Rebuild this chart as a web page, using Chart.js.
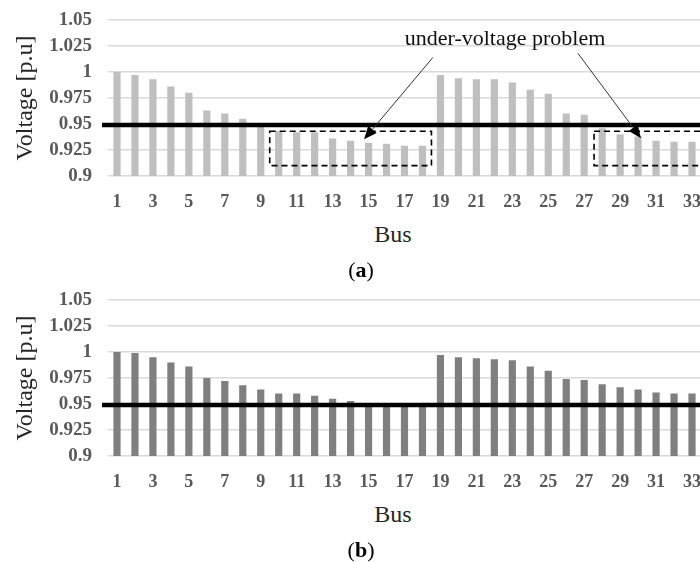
<!DOCTYPE html>
<html>
<head>
<meta charset="utf-8">
<script src="https://cdn.jsdelivr.net/npm/chart.js@4.4.1/dist/chart.umd.min.js"></script>
<style>
  body { margin: 0; width: 700px; height: 563px; overflow: hidden; background: #fff; }
  .wrap { position: relative; width: 700px; height: 563px; }
  canvas { position: absolute; left: 0; }
  .lbl { position: absolute; transform: translate(-50%, -50%); line-height: 1; white-space: nowrap;
         font-family: "Liberation Serif", "Times New Roman", serif; color: #262626; }
</style>
</head>
<body>
<div class="wrap">
  <canvas id="chartA" width="712" height="215" style="top:0px"></canvas>
  <canvas id="chartB" width="712" height="215" style="top:280px"></canvas>
  <div class="lbl" style="left:505px; top:38px; font-size:22px; color:#111;">under-voltage problem</div>
  <div class="lbl" style="left:393px; top:234px; font-size:24px;">Bus</div>
  <div class="lbl" style="left:361px; top:270px; font-size:22px; color:#000;">(<b>a</b>)</div>
  <div class="lbl" style="left:393px; top:514px; font-size:24px;">Bus</div>
  <div class="lbl" style="left:361px; top:550px; font-size:22px; color:#000;">(<b>b</b>)</div>
</div>
<script>
// datos
const buses = Array.from({ length: 33 }, (_, i) => String(i + 1));
const voltageBefore = [
  1.000, 0.997, 0.993, 0.986, 0.980, 0.963, 0.960, 0.955, 0.949, 0.943,
  0.942, 0.942, 0.936, 0.934, 0.932, 0.931, 0.929, 0.929, 0.997, 0.994,
  0.993, 0.993, 0.990, 0.983, 0.979, 0.960, 0.959, 0.946, 0.940, 0.938,
  0.934, 0.933, 0.933
];
const voltageAfter = [
  1.000, 0.999, 0.995, 0.990, 0.986, 0.975, 0.972, 0.968, 0.964, 0.960,
  0.960, 0.958, 0.955, 0.953, 0.950, 0.950, 0.949, 0.949, 0.997, 0.995,
  0.994, 0.993, 0.992, 0.986, 0.982, 0.974, 0.973, 0.969, 0.966, 0.964,
  0.961, 0.960, 0.960
];
const voltageLimit = 0.95;
const yMin = 0.9, yMax = 1.05, yStep = 0.025;

// zonas con problema (bus desde, bus hasta, tensión baja, tensión alta)
const problemBoxes = [
  [9.5, 18.5, 0.91, 0.943],
  [27.55, 34.5, 0.91, 0.943]
];
// flechas: [bus inicio, tensión inicio, bus punta, tensión punta]
const problemArrows = [
  [18.58, 1.014, 14.75, 0.9353],
  [26.65, 1.018, 30.16, 0.9363]
];

const tickFontX = { family: "Liberation Serif", size: 18, weight: "bold" };
const tickFontY = { family: "Liberation Serif", size: 19, weight: "bold" };

// línea horizontal del límite de tensión
const limitLinePlugin = {
  id: "limitLine",
  afterDatasetsDraw(chart) {
    const { ctx, chartArea, scales } = chart;
    const y = scales.y.getPixelForValue(voltageLimit) + 1;
    ctx.save();
    ctx.strokeStyle = "#000";
    ctx.lineWidth = 4.5;
    ctx.beginPath();
    ctx.moveTo(chartArea.left - 6, y);
    ctx.lineTo(chart.width, y);
    ctx.stroke();
    ctx.restore();
  }
};

// recuadros punteados y flechas del gráfico (a)
const problemPlugin = {
  id: "problem",
  afterDraw(chart) {
    const { ctx, scales } = chart;
    const x0 = scales.x.getPixelForValue(0);
    const step = scales.x.getPixelForValue(1) - x0;
    const bx = b => x0 + (b - 1) * step;
    const vy = v => scales.y.getPixelForValue(v);
    ctx.save();
    ctx.strokeStyle = "#000";
    ctx.lineWidth = 1.6;
    ctx.setLineDash([6, 4]);
    problemBoxes.forEach(([b1, b2, v1, v2]) => {
      ctx.strokeRect(bx(b1), vy(v2), bx(b2) - bx(b1), vy(v1) - vy(v2));
    });
    ctx.setLineDash([]);
    problemArrows.forEach(([b1, v1, b2, v2]) => {
      const sx = bx(b1), sy = vy(v1), ex = bx(b2), ey = vy(v2);
      const ang = Math.atan2(ey - sy, ex - sx);
      const len = 13, half = 5.5;
      const hx = ex - len * Math.cos(ang), hy = ey - len * Math.sin(ang);
      ctx.strokeStyle = "#333";
      ctx.lineWidth = 1;
      ctx.beginPath();
      ctx.moveTo(sx, sy);
      ctx.lineTo(hx, hy);
      ctx.stroke();
      ctx.fillStyle = "#000";
      ctx.beginPath();
      ctx.moveTo(ex, ey);
      ctx.lineTo(hx + half * Math.sin(ang), hy - half * Math.cos(ang));
      ctx.lineTo(hx - half * Math.sin(ang), hy + half * Math.cos(ang));
      ctx.closePath();
      ctx.fill();
    });
    ctx.restore();
  }
};

function makeChart(id, data, color, plugins) {
  return new Chart(document.getElementById(id), {
    type: "bar",
    data: {
      labels: buses,
      datasets: [{
        data: data,
        backgroundColor: color,
        barPercentage: 0.4,
        categoryPercentage: 1
      }]
    },
    options: {
      responsive: false,
      animation: false,
      devicePixelRatio: 1,
      layout: { padding: { top: 20, right: 11, bottom: 0, left: 0 } },
      plugins: { legend: { display: false }, tooltip: { enabled: false } },
      scales: {
        x: {
          grid: { display: false },
          border: { display: false },
          ticks: {
            autoSkip: false,
            maxRotation: 0,
            padding: 8,
            color: "#595959",
            font: tickFontX,
            callback: (v, i) => (i % 2 === 0 ? buses[i] : "")
          },
          afterFit: s => { s.height = 39; }
        },
        y: {
          min: yMin,
          max: yMax,
          border: { display: false },
          grid: { color: "#d9d9d9", lineWidth: 1.5, drawTicks: false },
          ticks: {
            stepSize: yStep,
            autoSkip: false,
            padding: 16,
            color: "#595959",
            font: tickFontY,
            callback: v => String(+v.toFixed(3))
          },
          title: {
            display: true,
            text: "Voltage [p.u]",
            color: "#262626",
            font: { family: "Liberation Serif", size: 24 },
            padding: { top: 11, bottom: 0 }
          },
          afterFit: s => {
            s.width = 108;
            s.paddingTop = 0;
            s.paddingBottom = 0;
          }
        }
      }
    },
    plugins: plugins
  });
}

makeChart("chartA", voltageBefore, "#bfbfbf", [limitLinePlugin, problemPlugin]);
makeChart("chartB", voltageAfter, "#7f7f7f", [limitLinePlugin]);
</script>
</body>
</html>
